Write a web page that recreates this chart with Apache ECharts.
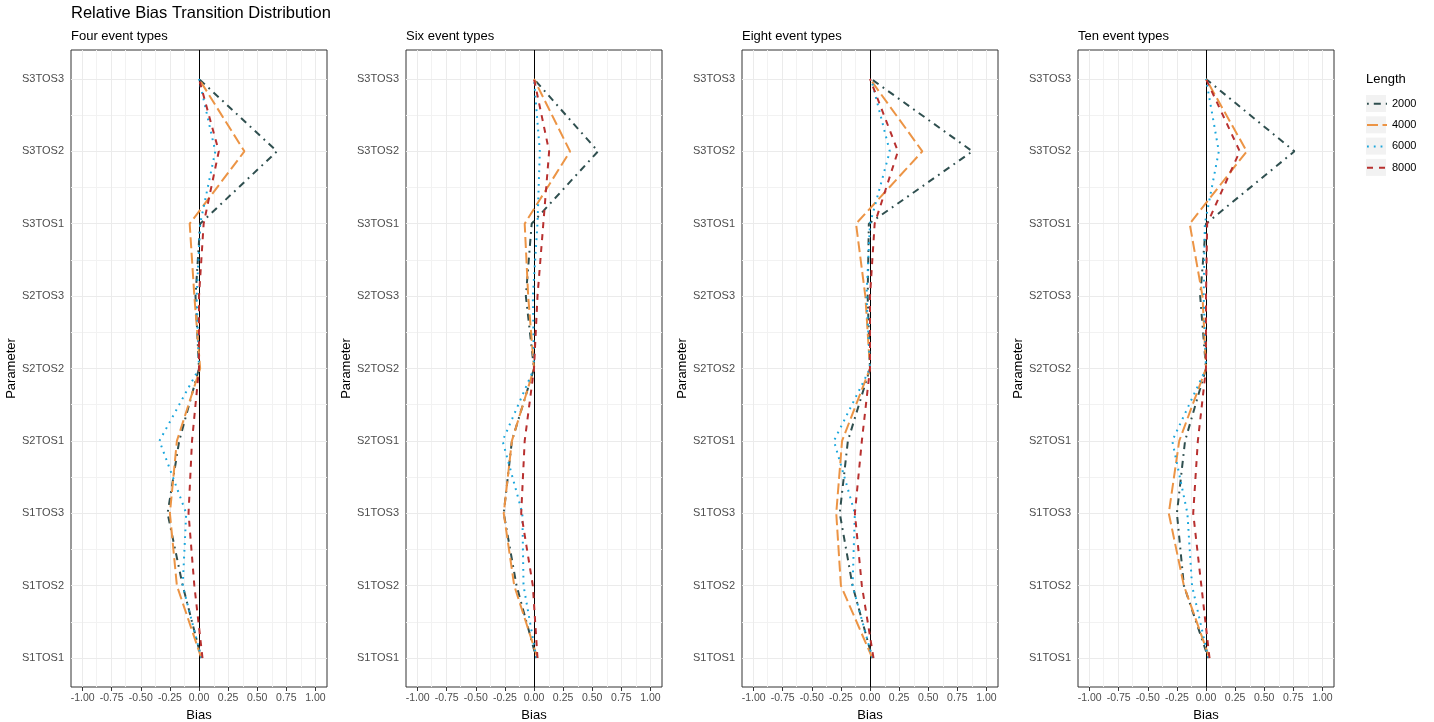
<!DOCTYPE html>
<html>
<head>
<meta charset="utf-8">
<script src="https://cdn.jsdelivr.net/npm/echarts@6/dist/echarts.min.js"></script>
<style>
html,body{margin:0;padding:0;background:#fff;}
#chart{width:1434px;height:722px;}
</style>
</head>
<body>
<div id="chart"></div>
<script>
// ---- data ----
const categories = ['S1TOS1','S1TOS2','S1TOS3','S2TOS1','S2TOS2','S2TOS3','S3TOS1','S3TOS2','S3TOS3'];
const panelTitles = ['Four event types','Six event types','Eight event types','Ten event types'];
const lengths = ['2000','4000','6000','8000'];
const xTicks = [-1, -0.75, -0.5, -0.25, 0, 0.25, 0.5, 0.75, 1];
const xMinorTicks = [-0.875, -0.625, -0.375, -0.125, 0.125, 0.375, 0.625, 0.875];
const yTicks = [1, 2, 3, 4, 5, 6, 7, 8, 9];
const yMinorTicks = [1.5, 2.5, 3.5, 4.5, 5.5, 6.5, 7.5, 8.5];

// bias values ordered S1TOS1 ... S3TOS3
const four_2000  = [0.02, -0.14, -0.27, -0.17, 0.00, -0.03,  0.01, 0.67, 0.00];
const four_4000  = [0.02, -0.19, -0.25, -0.19, 0.01, -0.04, -0.08, 0.39, 0.00];
const four_6000  = [0.02, -0.14, -0.11, -0.34, 0.00, -0.02,  0.01, 0.14, 0.00];
const four_8000  = [0.03, -0.04, -0.09, -0.06, 0.00,  0.00,  0.04, 0.17, 0.00];

const six_2000   = [0.02, -0.15, -0.26, -0.19, 0.00, -0.07, -0.02, 0.55, 0.00];
const six_4000   = [0.03, -0.17, -0.26, -0.19, 0.00, -0.05, -0.08, 0.31, 0.00];
const six_6000   = [0.02, -0.09, -0.10, -0.27, 0.00, -0.01,  0.03, 0.05, 0.00];
const six_8000   = [0.03, -0.01, -0.11, -0.08, 0.00,  0.03,  0.08, 0.13, 0.00];

const eight_2000 = [0.02, -0.15, -0.26, -0.19, 0.00, -0.02, -0.01, 0.88, 0.01];
const eight_4000 = [0.02, -0.25, -0.29, -0.24, 0.00, -0.04, -0.12, 0.45, 0.00];
const eight_6000 = [0.02, -0.15, -0.13, -0.31, 0.00, -0.03,  0.00, 0.17, 0.01];
const eight_8000 = [0.03, -0.07, -0.13, -0.07, 0.00,  0.00,  0.04, 0.24, 0.00];

const ten_2000   = [0.02, -0.19, -0.25, -0.18, 0.00, -0.05,  0.00, 0.76, 0.00];
const ten_4000   = [0.03, -0.19, -0.32, -0.23, 0.00, -0.03, -0.14, 0.35, 0.00];
const ten_6000   = [0.02, -0.12, -0.16, -0.29, 0.00, -0.02, -0.01, 0.11, 0.00];
const ten_8000   = [0.03, -0.04, -0.11, -0.07, 0.00,  0.00,  0.01, 0.29, 0.00];

const panelValues = [
  [four_2000, four_4000, four_6000, four_8000],
  [six_2000, six_4000, six_6000, six_8000],
  [eight_2000, eight_4000, eight_6000, eight_8000],
  [ten_2000, ten_4000, ten_6000, ten_8000]
];

// ---- styles ----
const FONT = '"Liberation Sans", Arial, sans-serif';
const colors = ['#2F4F4F', '#EC9445', '#1AA6DC', '#B8302F'];
const dashes = [[1.8, 5, 7, 5], [11, 4.5], [1.8, 5], [6, 6]];
const panelLefts = [71, 406, 742, 1078];
const GRID_W = 256, GRID_TOP = 50, GRID_H = 637;

const grids = [], xAxes = [], yAxes = [], series = [], titles = [];

titles.push({
  text: 'Relative Bias Transition Distribution', left: 71, top: 5, padding: 0,
  textStyle: {fontFamily: FONT, fontSize: 16.5, fontWeight: 'normal', color: '#000'}
});

panelTitles.forEach((t, p) => {
  titles.push({
    text: t, left: panelLefts[p], top: 30, padding: 0,
    textStyle: {fontFamily: FONT, fontSize: 13, fontWeight: 'normal', color: '#000'}
  });
  grids.push({
    left: panelLefts[p], top: GRID_TOP, width: GRID_W, height: GRID_H,
    outerBoundsMode: 'none',
    show: true, borderColor: '#333333', borderWidth: 1, backgroundColor: 'transparent', containLabel: false
  });
  xAxes.push({
    gridIndex: p, type: 'value', min: -1.1, max: 1.1,
    splitLine: {show: false}, axisLine: {show: false},
    axisTick: {show: true, length: 4, lineStyle: {color: '#333333'}, customValues: xTicks},
    axisLabel: {customValues: xTicks, formatter: v => Number(v).toFixed(2),
      fontFamily: FONT, fontSize: 10.5, color: '#4D4D4D', margin: 6},
    name: 'Bias', nameLocation: 'middle', nameGap: 20,
    nameTextStyle: {fontFamily: FONT, fontSize: 13, color: '#000'}
  });
  yAxes.push({
    gridIndex: p, type: 'value', min: 0.6, max: 9.4,
    splitLine: {show: false}, axisLine: {show: false},
    axisTick: {show: true, length: 4, lineStyle: {color: '#333333'}, customValues: yTicks},
    axisLabel: {customValues: yTicks, formatter: v => categories[Math.round(v) - 1] || '',
      fontFamily: FONT, fontSize: 11, color: '#4D4D4D', margin: 7},
    name: 'Parameter', nameLocation: 'middle', nameGap: 51,
    nameTextStyle: {fontFamily: FONT, fontSize: 13, color: '#000'}
  });

  // grid lines through the axes' own scales
  const gl = [];
  xMinorTicks.forEach(v => gl.push({xAxis: v, lineStyle: {color: '#F2F2F2', width: 1, type: 'solid'}}));
  yMinorTicks.forEach(v => gl.push({yAxis: v, lineStyle: {color: '#F2F2F2', width: 1, type: 'solid'}}));
  xTicks.forEach(v => gl.push({xAxis: v, lineStyle: {color: '#EBEBEB', width: 1, type: 'solid'}}));
  yTicks.forEach(v => gl.push({yAxis: v, lineStyle: {color: '#EBEBEB', width: 1, type: 'solid'}}));
  series.push({
    type: 'line', name: '_grid' + p, xAxisIndex: p, yAxisIndex: p, data: [], silent: true, z: 1,
    markLine: {silent: true, symbol: ['none', 'none'], label: {show: false}, z: 1, animation: false,
      emphasis: {disabled: true}, data: gl}
  });
  series.push({
    type: 'line', name: '_zero' + p, xAxisIndex: p, yAxisIndex: p, data: [], silent: true, z: 2,
    markLine: {silent: true, symbol: ['none', 'none'], label: {show: false}, z: 2, animation: false,
      emphasis: {disabled: true},
      data: [{xAxis: 0, lineStyle: {color: '#000000', width: 1, type: 'solid'}}]}
  });

  lengths.forEach((len, l) => {
    series.push({
      type: 'line', name: len, xAxisIndex: p, yAxisIndex: p, z: 3,
      symbol: 'none', showSymbol: false, animation: false,
      data: panelValues[p][l].map((v, i) => [v, i + 1]),
      lineStyle: {color: colors[l], width: 2, type: dashes[l], cap: 'butt'},
      itemStyle: {color: colors[l]},
      emphasis: {disabled: true}
    });
  });
});

titles.push({
  text: 'Length', left: 1366, top: 73, padding: 0,
  textStyle: {fontFamily: FONT, fontSize: 13, fontWeight: 'normal', color: '#000'}
});

const legendBoxes = lengths.map((_, i) => ({
  type: 'rect', left: 1366, top: 95 + i * 21.3, z: -1,
  shape: {width: 20, height: 17}, style: {fill: '#F2F2F2'}
}));

const option = {
  animation: false,
  backgroundColor: '#ffffff',
  title: titles,
  grid: grids,
  xAxis: xAxes,
  yAxis: yAxes,
  legend: {
    data: lengths, orient: 'vertical', left: 1366, top: 97, padding: 0,
    itemWidth: 20, itemHeight: 17, itemGap: 7.7, selectedMode: false,
    itemStyle: {opacity: 0},
    lineStyle: {width: 2},
    textStyle: {fontFamily: FONT, fontSize: 11, color: '#000'}
  },
  graphic: legendBoxes,
  series: series
};

const chart = echarts.init(document.getElementById('chart'), null, {renderer: 'canvas'});
chart.setOption(option);
</script>
</body>
</html>
